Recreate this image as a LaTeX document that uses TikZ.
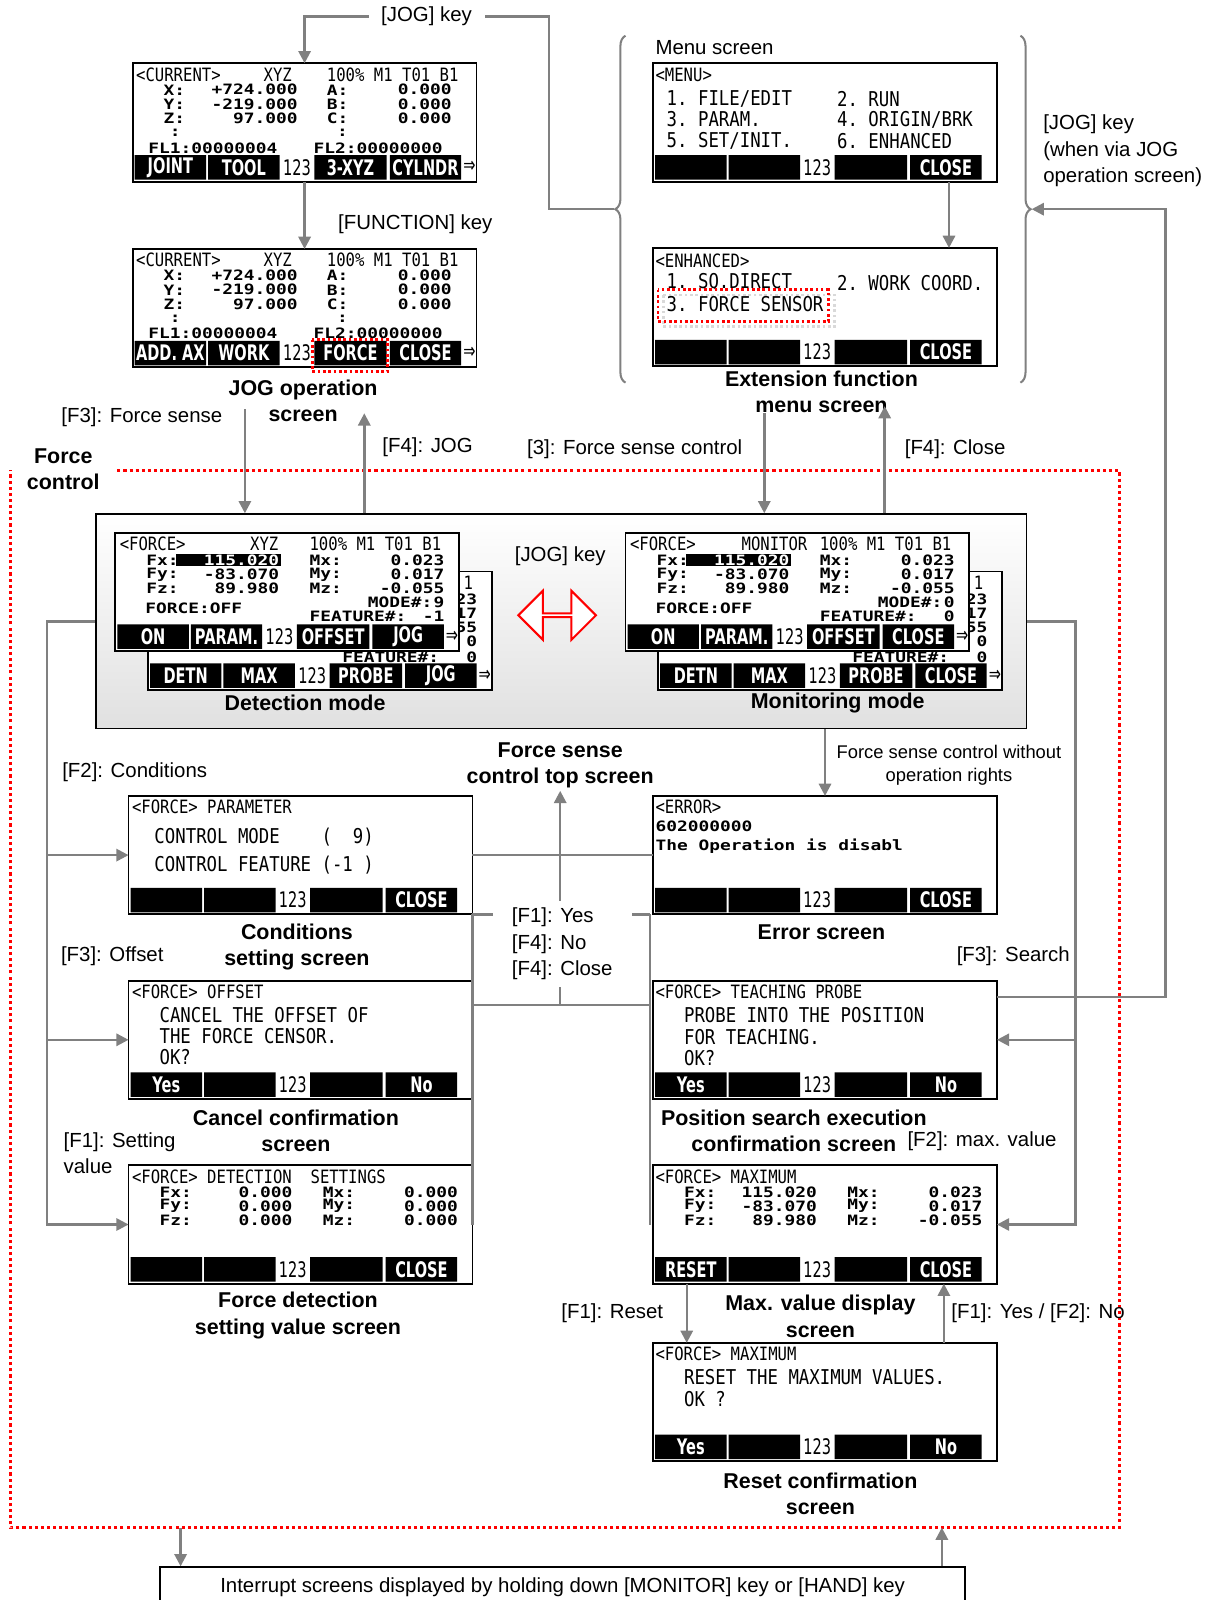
\documentclass[tikz,border=0pt]{standalone}
\usepackage{fontspec}
\setmainfont{Liberation Sans}
\newfontfamily\lcdfont[FakeStretch=0.85]{DejaVu Sans Mono}
\newfontfamily\datfont[FakeStretch=1.25]{DejaVu Sans Mono}
\newfontfamily\keyfont[FakeStretch=0.68]{DejaVu Sans}
\usepackage{tikz}
\usetikzlibrary{arrows.meta, positioning, calc, shapes.arrows, decorations.pathreplacing}
\definecolor{linegray}{RGB}{128,128,128}

% soft key row of a teaching pendant screen
\newcommand{\keybar}[6]{%
  \begin{scope}[shift={(#1.north west)}]
    \fill (2,90) rectangle (72,114) (74,90) rectangle (144,114)
          (178,90) rectangle (249,114) (252,90) rectangle (322,114);
    \node[skey] (#1ka) at (37,102) {#2};
    \node[skey] (#1kb) at (109,102) {#3};
    \node[num] (#1kc) at (161,102) {123};
    \node[skey] (#1kd) at (213.5,102) {#4};
    \node[skey] (#1ke) at (287,102) {#5};
    \node[num] (#1kf) at (330,102) {#6};
  \end{scope}}

% three rows of force / moment values
\newcommand{\fdata}[8]{%
  \begin{scope}[shift={(#1.north west)}]
    \node[dat] (#1fx) at (30,#2) {Fx:};
    \node[dat] (#1fy) at (30,#2+14) {Fy:};
    \node[dat] (#1fz) at (30,#2+28) {Fz:};
    \node[dat, anchor=east] (#1vx) at (161,#2) {#3};
    \node[dat, anchor=east] (#1vy) at (161,#2+14) {#4};
    \node[dat, anchor=east] (#1vz) at (161,#2+28) {#5};
    \node[dat] (#1mx) at (190,#2) {Mx:};
    \node[dat] (#1my) at (190,#2+14) {My:};
    \node[dat] (#1mz) at (190,#2+28) {Mz:};
    \node[dat, anchor=east] (#1wx) at (323,#2) {#6};
    \node[dat, anchor=east] (#1wy) at (323,#2+14) {#7};
    \node[dat, anchor=east] (#1wz) at (323,#2+28) {#8};
  \end{scope}}

% <CURRENT> screen
\newcommand{\curbody}[1]{%
  \begin{scope}[shift={(#1.north west)}]
    \node[hdr] (#1h) at (3,11) {<CURRENT>};
    \node[hdr] (#1m) at (128,11) {XYZ};
    \node[hdr] (#1s) at (190,11) {100\%~M1~T01~B1};
    \node[dat] (#1x) at (30,26) {X:};
    \node[dat] (#1y) at (30,40) {Y:};
    \node[dat] (#1z) at (30,54) {Z:};
    \node[dat, anchor=east] (#1xv) at (162,26) {+724.000};
    \node[dat, anchor=east] (#1yv) at (162,40) {-219.000};
    \node[dat, anchor=east] (#1zv) at (162,54) {97.000};
    \node[dat] (#1a) at (190,26) {A:};
    \node[dat] (#1b) at (190,40) {B:};
    \node[dat] (#1c) at (190,54) {C:};
    \node[dat, anchor=east] (#1av) at (313,26) {0.000};
    \node[dat, anchor=east] (#1bv) at (313,40) {0.000};
    \node[dat, anchor=east] (#1cv) at (313,54) {0.000};
    \node[dat] (#1d1) at (36,68) {:};
    \node[dat] (#1d2) at (200,68) {:};
    \node[dat] (#1f1) at (15,83) {FL1:00000004};
    \node[dat] (#1f2) at (177,83) {FL2:00000000};
  \end{scope}}

% <FORCE> screen of force sense control
\newcommand{\forcescr}[4]{%
  \begin{scope}[shift={(#1.north west)}]
    \node[hdr] (#1h) at (4,11) {<FORCE>};
    \node[hdr, anchor=center] (#1m) at (146,11) {#2};
    \node[hdr] (#1s) at (190,11) {100\%~M1~T01~B1};
    \fill (59,21) rectangle (162,33);
    \node[dat] (#1o) at (247,68) {MODE\#:};
    \node[dat, anchor=east] (#1ov) at (323,68) {#3};
    \node[dat] (#1c) at (29,74) {FORCE:OFF};
    \node[dat] (#1e) at (190,82) {FEATURE\#:};
    \node[dat, anchor=east] (#1ev) at (323,82) {#4};
  \end{scope}
  \fdata{#1}{27}{\textcolor{white}{115.020}}{-83.070}{89.980}{0.023}{0.017}{-0.055}}

% the part of a <FORCE> screen left in sight behind another one
\newcommand{\backscr}[1]{%
  \begin{scope}[shift={(#1.north west)}]
    \node[hdr, anchor=east] (#1s) at (319,11) {1};
    \node[dat, anchor=east] (#1wx) at (323,27) {23};
    \node[dat, anchor=east] (#1wy) at (323,41) {17};
    \node[dat, anchor=east] (#1wz) at (323,55) {55};
    \node[dat, anchor=east] (#1ov) at (323,68) {0};
    \node[dat] (#1e) at (190,84) {FEATURE\#:};
    \node[dat, anchor=east] (#1ev) at (323,84) {0};
  \end{scope}}

\begin{document}
\begin{tikzpicture}[
    x=0.5pt, y=-0.5pt,
    screen/.style={
        draw,
        line width=0.9pt,
        fill=white,
        minimum width=168.5pt,
        minimum height=58pt,
        inner sep=0pt,
        outer sep=0pt,
        anchor=north west
    },
    hdr/.style={font=\lcdfont\fontsize{9}{10}\selectfont, inner sep=0pt, anchor=west},
    lcdbig/.style={font=\lcdfont\fontsize{10}{11}\selectfont, inner sep=0pt, anchor=west},
    dat/.style={font=\datfont\bfseries\fontsize{7}{8}\selectfont, inner sep=0pt, anchor=west},
    skey/.style={font=\keyfont\bfseries\fontsize{10.5}{11}\selectfont, text=white, inner sep=0pt},
    num/.style={font=\keyfont\fontsize{10.5}{11}\selectfont, inner sep=0pt},
    capt/.style={font=\bfseries\fontsize{10.5}{13}\selectfont, align=center, inner sep=1pt},
    lbl/.style={font=\fontsize{10}{13}\selectfont, align=left, inner sep=1pt},
    arr/.style={draw=linegray, line width=1.2pt, -{Triangle[width=6pt,length=6pt]}},
    link/.style={draw=linegray, line width=1.2pt},
    gbrace/.style={draw=linegray, line width=1pt, decorate, decoration={brace, amplitude=5pt}},
    redbox/.style={draw=red, line width=1.3pt, dash pattern=on 1.3pt off 1.3pt},
    fcframe/.style={draw=red, line width=1.5pt, dash pattern=on 1.5pt off 1.5pt}
]
\useasboundingbox (0,0) rectangle (1198,1568);

% force control region
\coordinate (fca) at (115,461);
\coordinate (fcb) at (1097,461);
\coordinate (fcc) at (1097,1497);
\coordinate (fcd) at (10,1497);
\coordinate (fce) at (10,461);
\draw[fcframe] (fca) -- (fcb) -- (fcc) -- (fcd) -- (fce);
\node[capt] (fcl) at (62,460) {Force\\control};

% JOG operation screens
\node[screen] (cur1) at (130,62) {};
\curbody{cur1}
\keybar{cur1}{JOINT}{TOOL}{3-XYZ}{CYLNDR}{⇒}
\node[screen] (cur2) at (130,244) {};
\curbody{cur2}
\keybar{cur2}{ADD.~AX}{WORK}{FORCE}{CLOSE}{⇒}
\draw[redbox] ($(cur2.north west)+(176,89)$) rectangle ($(cur2.north west)+(250,120)$);
\node[capt] (jogcap) at (297,393) {JOG operation\\screen};

% menu screens
\node[lbl, anchor=west] (menulbl) at (640,47) {Menu screen};
\node[screen] (menu) at (640,62) {};
\begin{scope}[shift={(menu.north west)}]
  \node[hdr] (menuh) at (2,11) {<MENU>};
  \node[lcdbig] (menu1) at (13,35) {1.~FILE/EDIT};
  \node[lcdbig] (menu2) at (180,35) {2.~RUN};
  \node[lcdbig] (menu3) at (13,55) {3.~PARAM.};
  \node[lcdbig] (menu4) at (180,55) {4.~ORIGIN/BRK};
  \node[lcdbig] (menu5) at (13,76) {5.~SET/INIT.};
  \node[lcdbig] (menu6) at (180,76) {6.~ENHANCED};
\end{scope}
\keybar{menu}{}{}{}{CLOSE}{}
\node[screen] (enh) at (640,243) {};
\begin{scope}[shift={(enh.north west)}]
  \node[hdr] (enhh) at (2,13) {<ENHANCED>};
  \draw[black!15, line width=1.3pt, dash pattern=on 1.3pt off 1.3pt] (10,46) rectangle (178,77);
  \node[lcdbig] (enh1) at (13,34) {1.~SQ.DIRECT};
  \node[lcdbig] (enh2) at (180,34) {2.~WORK~COORD.};
  \node[lcdbig] (enh3) at (13,55) {3.~FORCE~SENSOR};
  \draw[redbox] (5,41) rectangle (172,72);
\end{scope}
\keybar{enh}{}{}{}{CLOSE}{}
\node[capt] (extcap) at (805,384) {Extension function\\menu screen};

% braces round the menu screens
\coordinate (lbtip) at (602,205);
\coordinate (rbtip) at (1011,205);
\draw[gbrace] (613,375) -- (613,35);
\draw[gbrace] (1000,35) -- (1000,375);
\node[lbl, anchor=west] (jogvia) at (1020,148) {[JOG] key\\(when via JOG\\operation screen)};

% top connectors
\node[lbl, inner xsep=6pt] (jogkey) at (418,16) {[JOG] key};
\draw[arr] (jogkey.west) -| (cur1.north);
\draw[link] (lbtip) -- ++(-64,0) |- (jogkey.east);
\draw[arr] (cur1.south) -- (cur2.north);
\node[lbl] (fnkey) at (407,220) {[FUNCTION] key};
\draw[arr] ($(menu.south)+(121.5,0)$) -- ($(enh.north)+(121.5,0)$);

% force sense control top screen
\node[draw, line width=0.9pt, top color=white, bottom color=black!12, minimum width=456pt,
      minimum height=105pt, anchor=north west] (fsc) at (93,503) {};
\node[screen] (detb) at (145,560) {};
\backscr{detb}
\keybar{detb}{DETN}{MAX}{PROBE}{JOG}{⇒}
\node[screen] (detf) at (113,522) {};
\forcescr{detf}{XYZ}{9}{-1}
\keybar{detf}{ON}{PARAM.}{OFFSET}{JOG}{⇒}
\node[capt] (detcap) at (299,689) {Detection mode};
\node[screen] (monb) at (645,560) {};
\backscr{monb}
\keybar{monb}{DETN}{MAX}{PROBE}{CLOSE}{⇒}
\node[screen] (monf) at (613,522) {};
\forcescr{monf}{MONITOR}{0}{0}
\keybar{monf}{ON}{PARAM.}{OFFSET}{CLOSE}{⇒}
\node[capt] (moncap) at (821,689) {Monitoring mode};
\node[double arrow, draw=red, line width=1pt, fill=white, minimum height=38pt,
      minimum width=24pt, double arrow head extend=6pt, inner sep=0pt] (swap) at (546,603) {};
\node[lbl] (jogk2) at (549,545) {[JOG] key};

% in and out of the top screen
\node[lbl] (f3fs) at (139,409) {[F3]: Force sense};
\node[lbl] (f4jog) at (419,438) {[F4]: JOG};
\node[lbl] (f3fsc) at (622,440) {[3]: Force sense control};
\node[lbl] (f4cl) at (936,440) {[F4]: Close};
\coordinate (fsin) at (240,401);
\coordinate (jogout) at (357,405);
\coordinate (fscin) at (749,405);
\coordinate (clout) at (867,398);
\draw[arr] (fsin) -- (fsin |- fsc.north);
\draw[arr] (jogout |- fsc.north) -- (jogout);
\draw[arr] (fscin) -- (fscin |- fsc.north);
\draw[arr] (clout |- fsc.north) -- (clout);

% sub screens
\node[screen] (cond) at (126,780) {};
\begin{scope}[shift={(cond.north west)}]
  \node[hdr] (condh) at (3,11) {<FORCE>~PARAMETER};
  \node[lcdbig] (cond1) at (25,40) {CONTROL~MODE~~~~(~~9)};
  \node[lcdbig] (cond2) at (25,68) {CONTROL~FEATURE~(-1~)};
\end{scope}
\keybar{cond}{}{}{}{CLOSE}{}
\node[capt] (condcap) at (291,928) {Conditions\\setting screen};

\node[screen] (err) at (640,780) {};
\begin{scope}[shift={(err.north west)}]
  \node[hdr] (errh) at (2,11) {<ERROR>};
  \node[dat] (err1) at (2,30) {602000000};
  \node[dat] (err2) at (2,49) {The~Operation~is~disabl};
\end{scope}
\keybar{err}{}{}{}{CLOSE}{}
\node[capt] (errcap) at (805,914) {Error screen};

\node[screen] (off) at (126,961) {};
\begin{scope}[shift={(off.north west)}]
  \node[hdr] (offh) at (3,11) {<FORCE>~OFFSET};
  \node[lcdbig] (off1) at (30,34) {CANCEL~THE~OFFSET~OF};
  \node[lcdbig] (off2) at (30,54) {THE~FORCE~CENSOR.};
  \node[lcdbig] (off3) at (30,75) {OK?};
\end{scope}
\keybar{off}{Yes}{}{}{No}{}
\node[capt] (offcap) at (290,1108) {Cancel confirmation\\screen};

\node[screen] (probe) at (640,961) {};
\begin{scope}[shift={(probe.north west)}]
  \node[hdr] (probeh) at (2,11) {<FORCE>~TEACHING~PROBE};
  \node[lcdbig] (probe1) at (30,34) {PROBE~INTO~THE~POSITION};
  \node[lcdbig] (probe2) at (30,55) {FOR~TEACHING.};
  \node[lcdbig] (probe3) at (30,76) {OK?};
\end{scope}
\keybar{probe}{Yes}{}{}{No}{}
\node[capt] (probecap) at (778,1108) {Position search execution\\confirmation screen};

\node[screen] (dset) at (126,1142) {};
\begin{scope}[shift={(dset.north west)}]
  \node[hdr] (dseth) at (3,11) {<FORCE>~DETECTION~~SETTINGS};
\end{scope}
\fdata{dset}{26}{0.000}{0.000}{0.000}{0.000}{0.000}{0.000}
\keybar{dset}{}{}{}{CLOSE}{}
\node[capt] (dsetcap) at (292,1289) {Force detection\\setting value screen};

\node[screen] (maxd) at (640,1142) {};
\begin{scope}[shift={(maxd.north west)}]
  \node[hdr] (maxdh) at (2,11) {<FORCE>~MAXIMUM};
\end{scope}
\fdata{maxd}{26}{115.020}{-83.070}{89.980}{0.023}{0.017}{-0.055}
\keybar{maxd}{RESET}{}{}{CLOSE}{}
\node[capt] (maxdcap) at (804,1290) {Max. value display\\screen};

\node[screen] (reset) at (640,1316) {};
\begin{scope}[shift={(reset.north west)}]
  \node[hdr] (reseth) at (2,11) {<FORCE>~MAXIMUM};
  \node[lcdbig] (reset1) at (30,34) {RESET~THE~MAXIMUM~VALUES.};
  \node[lcdbig] (reset2) at (30,55) {OK~?};
\end{scope}
\keybar{reset}{Yes}{}{}{No}{}
\node[capt] (resetcap) at (804,1464) {Reset confirmation\\screen};

% connectors to the sub screens
\draw[arr] (fsc.west) -- ++(-47,0) |- (cond.west);
\draw[arr] (fsc.west) -- ++(-47,0) |- (off.west);
\draw[arr] (fsc.west) -- ++(-47,0) |- (dset.west);
\draw[arr] (fsc.east) -- ++(47,0) |- (probe.east);
\draw[arr] (fsc.east) -- ++(47,0) |- (maxd.east);
\draw[arr] (fsc.south -| err.north) -- (err.north);
\draw[arr] ($(probe.north east)+(0,16)$) -- ++(165,0) |- (rbtip);
\node[lbl] (f2cond) at (132,757) {[F2]: Conditions};
\node[lbl] (f3off) at (110,937) {[F3]: Offset};
\node[lbl, anchor=west] (f1set) at (60,1130) {[F1]: Setting\\value};
\node[lbl, font=\fontsize{9}{11.5}\selectfont, align=center] (norights) at (930,750)
    {Force sense control without\\operation rights};
\node[lbl] (f3srch) at (993,937) {[F3]: Search};
\node[lbl, anchor=west] (f2max) at (887,1118) {[F2]: max. value};

% return to the top screen
\coordinate (topin) at (549,775);
\coordinate (rj) at (549,985);
\coordinate (rl) at (463,896);
\coordinate (rr) at (637,896);
\draw[link] (cond.east) -- (err.west);
\draw[link] (rl) -- (rr);
\draw[link] (rj -| rl) -- (rj -| rr);
\draw[link] (rl) -- (rl |- dset.east);
\draw[link] (rr) -- (rr |- maxd.west);
\draw[arr] (rj) -- (topin);
\node[lbl, fill=white, minimum width=68pt, minimum height=42pt] (yesno) at (551,925)
    {[F1]: Yes\\{}[F4]: No\\{}[F4]: Close};
\node[capt] (topcap) at (549,750) {Force sense\\control top screen};

% reset
\draw[arr] ($(maxd.south west)+(33,0)$) -- ($(reset.north west)+(33,0)$);
\draw[arr] ($(reset.north east)+(-52,0)$) -- ($(maxd.south east)+(-52,0)$);
\node[lbl] (f1reset) at (600,1287) {[F1]: Reset};
\node[lbl, anchor=west] (f1yes) at (930,1287) {[F1]: Yes / [F2]: No};

% interrupt screens
\node[draw, line width=0.9pt, minimum width=394.5pt, minimum height=20pt, anchor=north west,
      font=\fontsize{10}{12}\selectfont] (intr) at (156,1535)
    {Interrupt screens displayed by holding down [MONITOR] key or [HAND] key};
\coordinate (fcbl) at (177,1497);
\coordinate (fcbr) at (923,1497);
\draw[arr] (fcbl) -- (fcbl |- intr.north);
\draw[arr] (fcbr |- intr.north) -- (fcbr);

\end{tikzpicture}
\end{document}
